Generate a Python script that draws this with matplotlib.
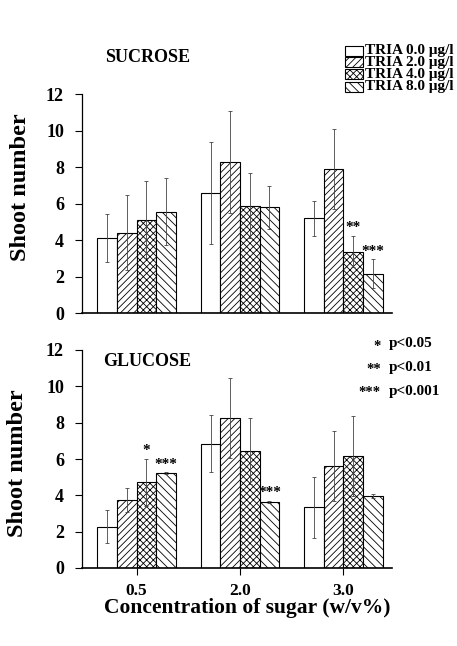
import matplotlib
matplotlib.use("Agg")
import matplotlib.pyplot as plt
from matplotlib.patches import Rectangle
import numpy as np

# ---- data ----
concentrations = ["0.5", "2.0", "3.0"]
series_labels = ["TRIA 0.0 \u03bcg/l", "TRIA 2.0 \u03bcg/l", "TRIA 4.0 \u03bcg/l", "TRIA 8.0 \u03bcg/l"]

sucrose_mean = [[4.10, 6.58, 5.18],
                [4.39, 8.27, 7.90],
                [5.12, 5.87, 3.36],
                [5.54, 5.80, 2.15]]
sucrose_err = [[1.33, 2.79, 0.98],
               [2.05, 2.80, 2.20],
               [2.12, 1.78, 0.86],
               [1.83, 1.17, 0.79]]
sucrose_sig = [["", "", ""], ["", "", ""], ["", "", "**"], ["", "", "***"]]

glucose_mean = [[2.28, 6.85, 3.34],
                [3.73, 8.26, 5.63],
                [4.71, 6.43, 6.18],
                [5.22, 3.65, 3.95]]
glucose_err = [[0.93, 1.59, 1.69],
               [0.65, 2.19, 1.93],
               [1.30, 1.83, 2.20],
               [0.06, 0.06, 0.12]]
glucose_sig = [["", "", ""], ["", "", ""], ["*", "", ""], ["***", "***", ""]]

sig_legend_stars = ["*", "**", "***"]
sig_legend_text = ["p<0.05", "p<0.01", "p<0.001"]

hatches = ["", "/////", "xxxxx", "\\\\\\\\"]
panel_titles = ["SUCROSE", "GLUCOSE"]

# ---- style ----
plt.rcParams["font.family"] = ["Liberation Serif", "DejaVu Serif"]
plt.rcParams["font.weight"] = "bold"
plt.rcParams["hatch.linewidth"] = 0.6

W, H = 457, 646
fig = plt.figure(figsize=(W / 100, H / 100), dpi=100)

def fx(px):
    return px / W

def fy(py):
    return 1 - py / H

ax_left, ax_right = 82, 392
ax_top = fig.add_axes([fx(ax_left), fy(313), fx(ax_right - ax_left), (313 - 94) / H])
ax_bot = fig.add_axes([fx(ax_left), fy(568), fx(ax_right - ax_left), (568 - 350) / H])

x = np.arange(len(concentrations))
w = 0.19
offsets = (np.arange(4) - 1.5) * w

def draw(ax, means, errs, sigs, show_xt):
    for i in range(4):
        ax.bar(x + offsets[i], means[i], width=w, color="white", edgecolor="black",
               linewidth=0.8, hatch=hatches[i], zorder=2)
        ax.errorbar(x + offsets[i], means[i], yerr=errs[i], fmt="none",
                    ecolor="#444444", elinewidth=0.6, capsize=1.5, capthick=0.6, zorder=3)
        for j in range(len(x)):
            if sigs[i][j]:
                ax.text(x[j] + offsets[i], means[i][j] + errs[i][j] + 0.25, sigs[i][j],
                        ha="center", va="baseline", fontsize=11, fontweight="bold")
    ax.set_xlim(-0.527, 2.469)
    ax.set_ylim(0, 12)
    ax.set_yticks(range(0, 13, 2))
    ax.spines["top"].set_visible(False)
    ax.spines["right"].set_visible(False)
    ax.spines["left"].set_linewidth(0.9)
    ax.spines["bottom"].set_linewidth(1.2)
    ax.tick_params(axis="y", direction="out", length=5, width=0.8, labelsize=13, pad=8)
    for lab in ax.get_yticklabels():
        lab.set_fontweight("bold")
    if show_xt:
        ax.set_xticks(x)
        ax.set_xticklabels(concentrations, fontsize=12.5, fontweight="bold")
        ax.tick_params(axis="x", direction="out", length=5, width=0.8, pad=6)
    else:
        ax.set_xticks([])

draw(ax_top, sucrose_mean, sucrose_err, sucrose_sig, False)
draw(ax_bot, glucose_mean, glucose_err, glucose_sig, True)

# panel titles
fig.text(fx(105), fy(57.5), panel_titles[0], ha="left", va="center", fontsize=13, fontweight="bold")
fig.text(fx(103), fy(361.5), panel_titles[1], ha="left", va="center", fontsize=13, fontweight="bold")

# y labels
fig.text(fx(21), fy(187), "Shoot number", rotation=90, ha="center", va="center",
         fontsize=17.5, fontweight="bold")
fig.text(fx(18), fy(463), "Shoot number", rotation=90, ha="center", va="center",
         fontsize=17.5, fontweight="bold")

# x label
fig.text(fx(247), fy(608), "Concentration of sugar (w/v%)", ha="center", va="center",
         fontsize=15.5, fontweight="bold")

# legend (manual)
leg_rows = [50.7, 62.3, 74.3, 86.7]
for i, lab in enumerate(series_labels):
    yc = leg_rows[i]
    r = Rectangle((fx(345), fy(yc + 5)), fx(18), 10 / H, transform=fig.transFigure,
                  facecolor="white", edgecolor="black", linewidth=0.8, hatch=hatches[i])
    fig.patches.append(r)
    fig.text(fx(365), fy(yc), lab, ha="left", va="center", fontsize=11, fontweight="bold")

# significance legend
sig_rows = [344, 367, 391]
for i in range(3):
    fig.text(fx(381), fy(sig_rows[i] + 2), sig_legend_stars[i], ha="right", va="center",
             fontsize=10.5, fontweight="bold")
    fig.text(fx(389), fy(sig_rows[i]), sig_legend_text[i], ha="left", va="center",
             fontsize=11, fontweight="bold")

fig.savefig("out.png", dpi=100)
